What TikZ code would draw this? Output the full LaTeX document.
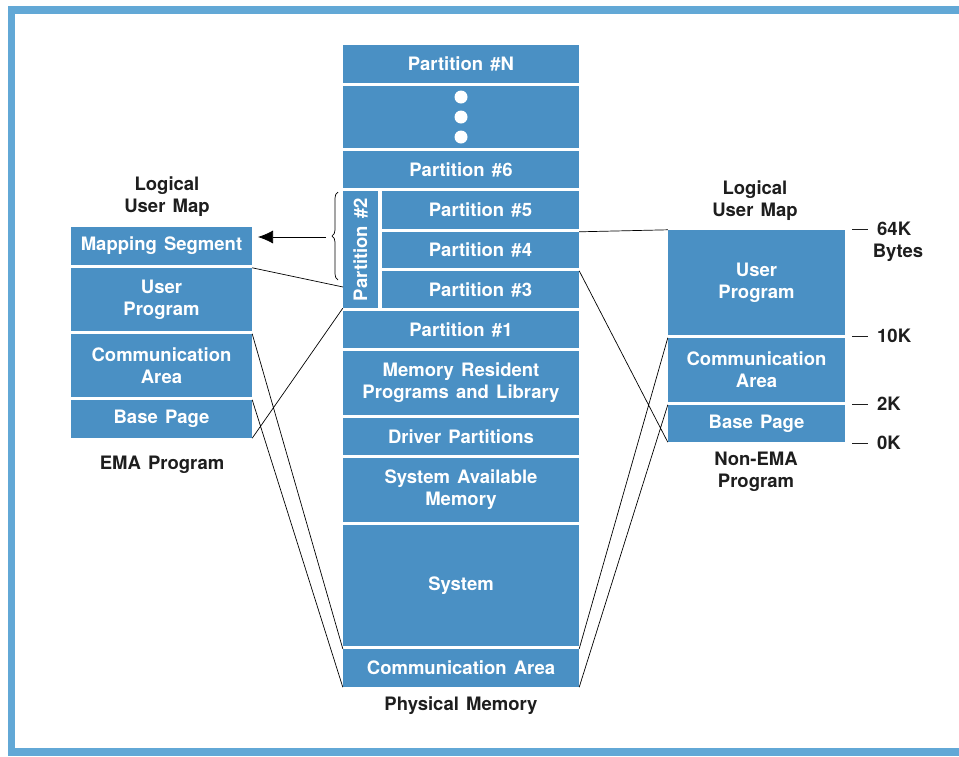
\documentclass[tikz,border=0pt]{standalone}
\usepackage{fontspec}
\setmainfont{TeX Gyre Heros}[WordSpace=1.4]
\usetikzlibrary{arrows.meta,decorations.pathreplacing}
\definecolor{memblue}{HTML}{4A90C4}
\definecolor{framblue}{HTML}{62A8D6}
\definecolor{labgray}{HTML}{1E1E1E}
\begin{document}
\begin{tikzpicture}[x=1pt, y=-1pt]
        \tikzstyle{every node}=[font=\bfseries\fontsize{18.5}{22}\selectfont, align=center, inner sep=0pt]
        \tikzstyle{mem}=[rectangle, fill=memblue, text=white]
        \tikzstyle{lab}=[text=labgray]
        \tikzstyle{wire}=[line width=0.7pt, black]

        \useasboundingbox (0,0) rectangle (959,756);
        % frame
        \fill [framblue] (8,6) rectangle (959,14);
        \fill [framblue] (8,6) rectangle (15,756);
        \fill [framblue] (8,748) rectangle (959,756);

        % physical memory
        \path (461,64) node [mem, minimum width=236, minimum height=38] (pN) {Partition \#N};
        \path (461,117) node [mem, minimum width=236, minimum height=62] (dots) {};
        \foreach \d in {97, 117, 137}
        {
          \fill [white] (461,\d) circle (6.5);
        }
        \path (461,169.5) node [mem, minimum width=236, minimum height=37] (p6) {Partition \#6};
        \path (480.5,210) node [mem, minimum width=197, minimum height=38] (p5) {Partition \#5};
        \path (480.5,250) node [mem, minimum width=197, minimum height=36] (p4) {Partition \#4};
        \path (480.5,289.5) node [mem, minimum width=197, minimum height=37] (p3) {Partition \#3};
        \path (360.5,249.5) node [mem, minimum width=35, minimum height=117] (p2) {};
        \path (p2) node [text=white, rotate=90] (p2t) {Partition \#2};
        \path (461,329.5) node [mem, minimum width=236, minimum height=37] (p1) {Partition \#1};
        \path (461,383) node [mem, minimum width=236, minimum height=64] (res) {Memory Resident\\Programs and Library};
        \path (461,436.5) node [mem, minimum width=236, minimum height=37] (drv) {Driver Partitions};
        \path (461,490) node [mem, minimum width=236, minimum height=64] (avail) {System Available\\Memory};
        \path (461,585.5) node [mem, minimum width=236, minimum height=121] (sys) {System};
        \path (461,668) node [mem, minimum width=236, minimum height=38] (pcom) {Communication Area};
        \path (461,706) node [lab] (phys) {Physical Memory};

        % EMA program
        \path (167,197) node [lab] (lmap) {Logical\\User Map};
        \path (161.5,246) node [mem, minimum width=181, minimum height=38] (emap) {Mapping Segment};
        \path (161.5,299.5) node [mem, minimum width=181, minimum height=63] (eusr) {User\\Program};
        \path (161.5,365.5) node [mem, minimum width=181, minimum height=63] (ecom) {Communication\\Area};
        \path (161.5,419) node [mem, minimum width=181, minimum height=38] (ebase) {Base Page};
        \path (162,465) node [lab] (ema) {EMA Program};

        % non-EMA program
        \path (755,201) node [lab] (rmap) {Logical\\User Map};
        \path (756.5,282.5) node [mem, minimum width=177, minimum height=105] (nusr) {User\\Program};
        \path (756.5,370) node [mem, minimum width=177, minimum height=64] (ncom) {Communication\\Area};
        \path (756.5,423.5) node [mem, minimum width=177, minimum height=37] (nbase) {Base Page};
        \path (756,472) node [lab] (nema) {Non-EMA\\Program};

        % address marks
        \foreach \y/\t/\n in {229/64K/k64, 336/10K/k10, 404/2K/k2, 443/0K/k0}
        {
          \draw [line width=1pt, labgray] (852,\y) -- (868,\y);
          \path (877,\y) node [lab, anchor=west] (\n) {\t};
        }
        \path (898,253) node [lab] (bytes) {Bytes};

        % brace and arrow
        \draw [wire, decorate, decoration={brace, amplitude=6pt}] (338,280) -- (338,192);
        \coordinate (brtip) at (326,237);
        \coordinate (artip) at (258,237);
        \draw [wire, -{Latex[length=15pt, width=13pt]}] (brtip) -- (artip);

        % mapping lines
        \coordinate (p2in) at (343,287);
        \draw [wire]
          (eusr.north east) -- (p2in)
          (ebase.south east) -- (p2.south west)
          (ecom.north east) -- (pcom.north west)
          (ebase.north east) -- (pcom.south west)
          (p4.north east) -- (nusr.north west)
          (p3.north east) -- (nbase.south west)
          (ncom.north west) -- (pcom.north east)
          (nbase.north west) -- (pcom.south east);
      \end{tikzpicture}
\end{document}
